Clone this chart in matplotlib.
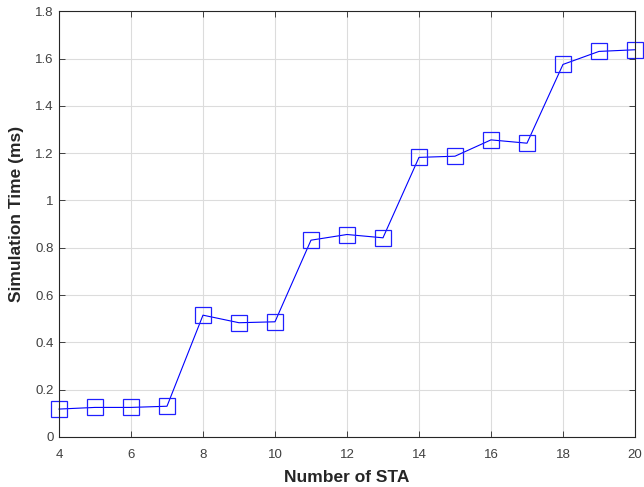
import matplotlib as mpl
mpl.use('Agg')
import matplotlib.pyplot as plt

plt.rcParams['font.family'] = ['Liberation Sans', 'DejaVu Sans']

num_sta = [4, 5, 6, 7, 8, 9, 10, 11, 12, 13, 14, 15, 16, 17, 18, 19, 20]
sim_time = [0.118, 0.125, 0.125, 0.13, 0.515, 0.483, 0.487, 0.832, 0.856, 0.842,
            1.182, 1.187, 1.256, 1.242, 1.575, 1.63, 1.637]

xticks = [4, 6, 8, 10, 12, 14, 16, 18, 20]
yticks = [0, 0.2, 0.4, 0.6, 0.8, 1, 1.2, 1.4, 1.6, 1.8]
ytick_labels = ['0', '0.2', '0.4', '0.6', '0.8', '1', '1.2', '1.4', '1.6', '1.8']

fig = plt.figure(figsize=(6.44, 4.87), dpi=100)
ax = fig.add_axes([0.0916, 0.1027, 0.8944, 0.8743])

ax.plot(num_sta, sim_time, color='blue', linewidth=0.8, marker='s',
        markersize=11.5, markerfacecolor='none', markeredgecolor='#2020ff',
        markeredgewidth=0.9, clip_on=False)

ax.set_xlim(4, 20)
ax.set_ylim(0, 1.8)
ax.set_xticks(xticks)
ax.set_yticks(yticks)
ax.set_yticklabels(ytick_labels)
ax.grid(True, color='#dcdcdc', linewidth=0.8)
ax.set_axisbelow(True)

ax.tick_params(direction='in', length=4, width=0.6, colors='#262626',
               labelsize=9.5, top=True, right=True, pad=4)
ax.tick_params(axis='x', pad=9)
ax.tick_params(labelcolor='#404040')
for s in ax.spines.values():
    s.set_color('#262626')
    s.set_linewidth(0.8)

ax.set_xlabel('Number of STA', fontsize=12.5, fontweight='bold', color='#262626', labelpad=6)
ax.set_ylabel('Simulation Time (ms)', fontsize=12.5, fontweight='bold', color='#262626')
ax.yaxis.set_label_coords(-0.061, 0.525)

fig.savefig('out.png', dpi=100)
